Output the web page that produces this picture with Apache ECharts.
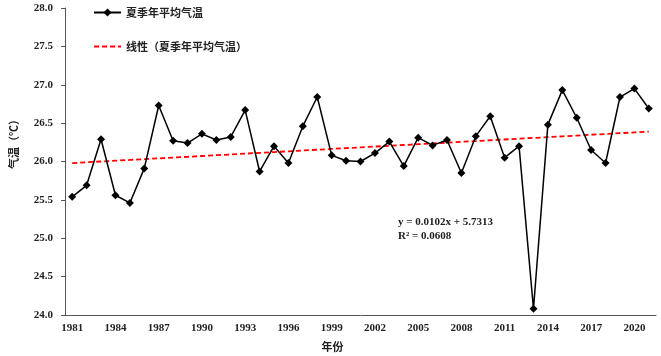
<!DOCTYPE html>
<html>
<head>
<meta charset="utf-8">
<script src="https://cdn.jsdelivr.net/npm/echarts@6/dist/echarts.min.js"></script>
<style>
  html, body { margin: 0; padding: 0; background: #fff; }
  #chart { width: 661px; height: 356px; }
</style>
</head>
<body>
<div id="chart"></div>
<script>
// 年份
var years = [];
for (var yr = 1981; yr <= 2021; yr++) years.push(String(yr));

// 夏季年平均气温
var temps = [
  25.54, 25.69, 26.29, 25.56, 25.46, 25.91, 26.73, 26.27, 26.24, 26.36,
  26.28, 26.32, 26.67, 25.87, 26.20, 25.98, 26.46, 26.84, 26.08, 26.01,
  26.00, 26.11, 26.26, 25.94, 26.31, 26.21, 26.28, 25.85, 26.33, 26.59,
  26.05, 26.20, 24.08, 26.48, 26.93, 26.57, 26.15, 25.98, 26.84, 26.95,
  26.69
];

var seriesNames = ['夏季年平均气温', '线性（夏季年平均气温）'];
var eqText = 'y = 0.0102x + 5.7313\nR² = 0.0608';

// 线性趋势：最小二乘
function linearFit(vals) {
  var n = vals.length, sx = 0, sy = 0, sxx = 0, sxy = 0;
  for (var i = 0; i < n; i++) {
    sx += i; sy += vals[i]; sxx += i * i; sxy += i * vals[i];
  }
  var k = (n * sxy - sx * sy) / (n * sxx - sx * sx);
  var b = (sy - k * sx) / n;
  return vals.map(function (v, i) { return +(k * i + b).toFixed(4); });
}
var trend = linearFit(temps);

var serif = 'Liberation Serif';
var cjk = 'Noto Sans CJK SC';

var option = {
  animation: false,
  backgroundColor: '#fff',
  grid: { left: 65, right: 5, top: 8, bottom: 41, outerBoundsMode: 'none' },
  legend: {
    orient: 'vertical',
    left: 88,
    top: 2,
    itemGap: 23,
    itemWidth: 27,
    itemHeight: 10,
    textStyle: { fontFamily: cjk, fontSize: 11, fontWeight: 'bold', color: '#222' },
    data: seriesNames
  },
  xAxis: {
    type: 'category',
    data: years,
    boundaryGap: true,
    name: '年份',
    nameLocation: 'middle',
    nameGap: 26,
    nameTextStyle: { fontFamily: cjk, fontSize: 11, fontWeight: 'bold', color: '#222', padding: [0, 56, 0, 0] },
    axisLine: { lineStyle: { color: '#555', width: 1 } },
    axisTick: { inside: true, interval: 2, length: 4, lineStyle: { color: '#555' } },
    axisLabel: { interval: 2, margin: 8, fontFamily: serif, fontSize: 11, fontWeight: 'bold', color: '#222' },
    splitLine: { show: false }
  },
  yAxis: {
    type: 'value',
    min: 24,
    max: 28,
    interval: 0.5,
    name: '气温（℃）',
    nameLocation: 'middle',
    nameRotate: 90,
    nameGap: 46,
    nameTextStyle: { fontFamily: cjk, fontSize: 11, fontWeight: 'bold', color: '#222', padding: [0, 0, 0, 40] },
    axisLine: { show: true, lineStyle: { color: '#555', width: 1 } },
    axisTick: { show: true, length: 4, lineStyle: { color: '#555' } },
    axisLabel: {
      margin: 12, fontFamily: serif, fontSize: 11, fontWeight: 'bold', color: '#222',
      formatter: function (v) { return v.toFixed(1); }
    },
    splitLine: { show: false }
  },
  series: [
    {
      name: seriesNames[0],
      type: 'line',
      data: temps,
      symbol: 'diamond',
      symbolSize: 8,
      lineStyle: { color: '#000', width: 1.5 },
      itemStyle: { color: '#000' },
      z: 3
    },
    {
      name: seriesNames[1],
      type: 'line',
      data: trend,
      symbol: 'none',
      lineStyle: { color: '#ff0000', width: 1.8, type: [5, 3] },
      // 图例里不要圆点
      itemStyle: { color: 'rgba(0,0,0,0)' },
      z: 2
    }
  ],
  graphic: [
    {
      type: 'text',
      left: 398,
      top: 215,
      style: {
        text: eqText,
        font: 'bold 11px "Liberation Serif"',
        fill: '#222',
        align: 'center',
        lineHeight: 14
      }
    }
  ]
};

var chart = echarts.init(document.getElementById('chart'), null, { renderer: 'canvas' });
chart.setOption(option);
</script>
</body>
</html>
